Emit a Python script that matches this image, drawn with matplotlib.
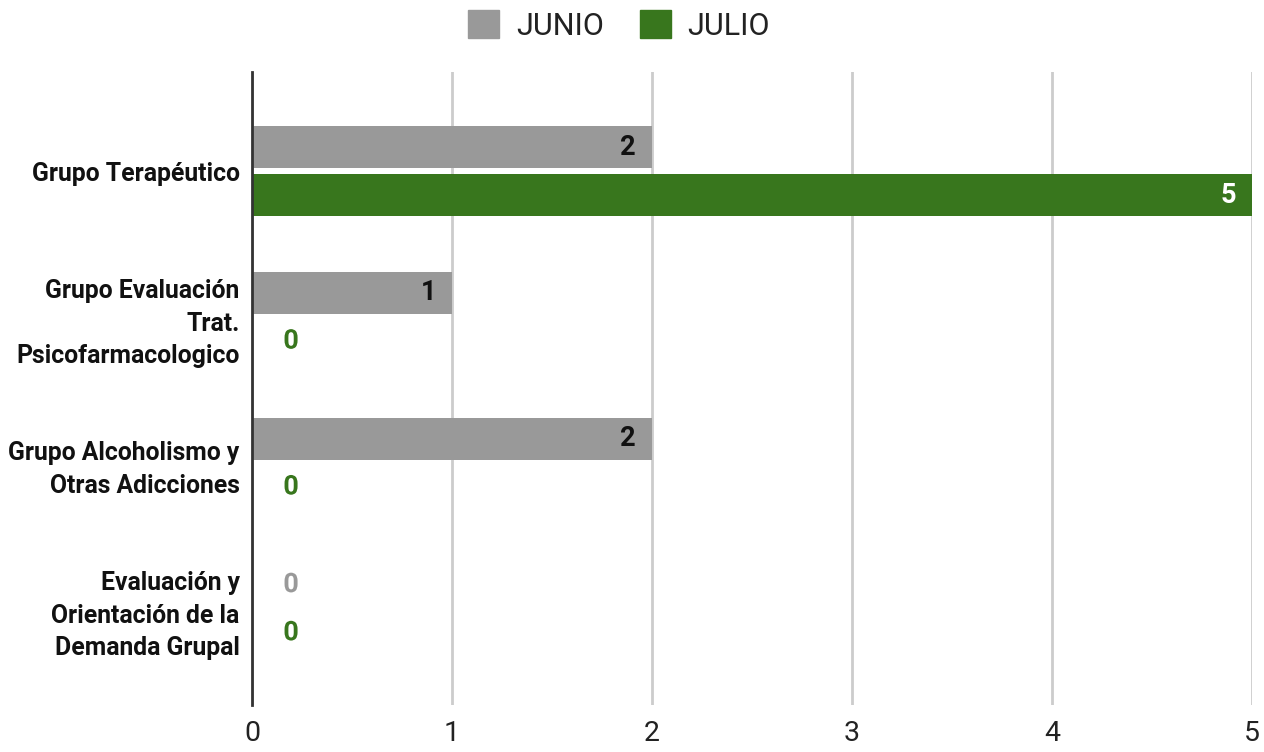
import numpy as np
import matplotlib.pyplot as plt
import matplotlib.patheffects as pe
from matplotlib.patches import Patch

plt.rcParams['font.family'] = ['Roboto', 'DejaVu Sans']

categorias = [
    'Grupo Terapéutico',
    'Grupo Evaluación\nTrat.\nPsicofarmacologico',
    'Grupo Alcoholismo y\nOtras Adicciones',
    'Evaluación y\nOrientación de la\nDemanda Grupal',
]
junio = [2, 1, 2, 0]
julio = [5, 0, 0, 0]
series = ['JUNIO', 'JULIO']

c_junio = '#999999'
c_julio = '#38761d'

fig = plt.figure(figsize=(12.64, 7.52), dpi=100)
ax = fig.add_axes([0.1994, 0.0625, 0.7911, 0.8417])

y = np.arange(len(categorias))
h = 0.29
off = 0.165

ax.barh(y - off, junio, height=h, color=c_junio, zorder=3)
ax.barh(y + off, julio, height=h, color=c_julio, zorder=3)

# etiquetas de valor: dentro de la barra, o con halo blanco si es cero
halo = [pe.withStroke(linewidth=5, foreground='white')]
for vals, dy, col, txtcol in [(junio, -off, c_junio, '#111111'),
                              (julio, off, c_julio, 'white')]:
    for i, v in enumerate(vals):
        if v > 0:
            ax.text(v - 0.08, i + dy, str(v), ha='right', va='center',
                    fontsize=19.5, fontweight='bold', color=txtcol, zorder=4)
        else:
            ax.text(0.195, i + dy, str(v), ha='center', va='center',
                    fontsize=19.5, fontweight='bold', color=col, zorder=4,
                    path_effects=halo)

ax.set_xlim(0, 5)
ax.set_ylim(3.66, -0.68)
ax.set_xticks(range(6))
ax.set_yticks(y)
ax.set_yticklabels(categorias, fontweight='bold', fontsize=17.8,
                   linespacing=1.45, color='#111111')
ax.tick_params(axis='y', length=0, pad=9)
ax.tick_params(axis='x', length=0, pad=11, labelsize=20.5, labelcolor='#222222')

ax.grid(axis='x', color='#cccccc', linewidth=2, zorder=0)
for s in ['top', 'right', 'bottom']:
    ax.spines[s].set_visible(False)
ax.spines['left'].set_color('#333333')
ax.spines['left'].set_linewidth(2)
ax.spines['left'].set_zorder(5)

handles = [Patch(color=c_junio, label=series[0]),
           Patch(color=c_julio, label=series[1])]
fig.legend(handles=handles, loc='center', bbox_to_anchor=(0.49, 0.966),
           ncol=2, frameon=False, fontsize=22, handlelength=1.0,
           handleheight=1.0, handletextpad=0.55, columnspacing=1.2,
           labelcolor='#222222')

fig.savefig('out.png', dpi=100)
